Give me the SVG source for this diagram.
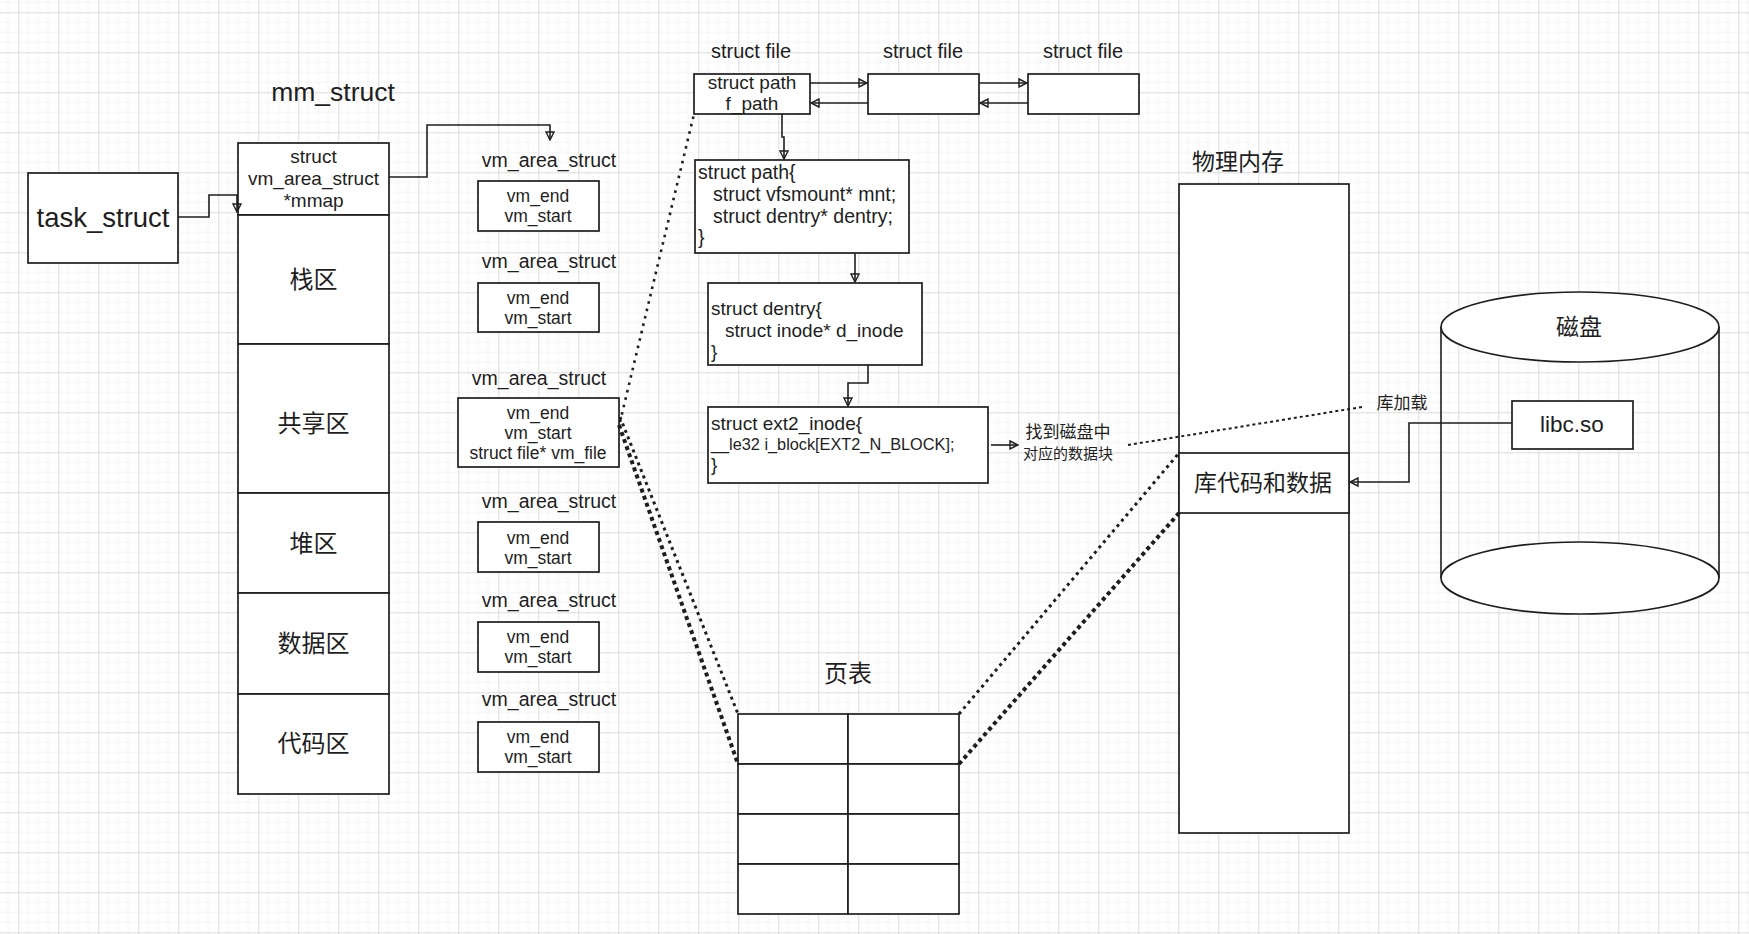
<svg xmlns="http://www.w3.org/2000/svg" width="1749" height="934" viewBox="0 0 1749 934">
<defs>
  <pattern id="grid" x="18.3" y="12.3" width="40" height="40" patternUnits="userSpaceOnUse">
    <path d="M10 0V40M20 0V40M30 0V40M0 10H40M0 20H40M0 30H40" stroke="#f3f3f3" stroke-width="1" fill="none"/>
    <path d="M0.5 0V40M0 0.5H40" stroke="#dcdcdc" stroke-width="1" fill="none"/>
  </pattern>
  <marker id="ah" viewBox="0 0 10 10" refX="9" refY="5" markerWidth="10" markerHeight="10" orient="auto" markerUnits="userSpaceOnUse">
    <path d="M1,1 L9,5 L1,9 Z" fill="none" stroke="#1e1e1e" stroke-width="1.4"/>
  </marker>
  <style>
    .box { fill: #ffffff; stroke: #1e1e1e; stroke-width: 1.7; }
    .t { font-family: "Liberation Sans", Arial, sans-serif; fill: #1e1e1e; }
    .c { font-family: "Noto Sans CJK SC", "Noto Sans", sans-serif; fill: #1e1e1e; }
    .mid { text-anchor: middle; }
    .ln { fill: none; stroke: #1e1e1e; stroke-width: 1.6; }
    .dot { fill: none; stroke: #1e1e1e; }
  </style>
</defs>
<rect x="0" y="0" width="1749" height="934" fill="#ffffff"/>
<rect x="0" y="0" width="1749" height="934" fill="url(#grid)"/>

<g id="task_struct">
  <rect class="box" x="28" y="173" width="150" height="90"/>
  <text class="t mid" x="103" y="227" font-size="27.5">task_struct</text>
</g>

<g id="mm_struct">
  <text class="t mid" x="333" y="101" font-size="26.5">mm_struct</text>
  <rect class="box" x="238" y="143" width="151" height="72"/>
  <text class="t mid" x="313.5" y="163" font-size="19">struct</text>
  <text class="t mid" x="313.5" y="185" font-size="19">vm_area_struct</text>
  <text class="t mid" x="313.5" y="207" font-size="19">*mmap</text>
</g>
<g id="stack">
  <rect class="box" x="238" y="215" width="151" height="129"/>
  <text class="c mid" x="313.5" y="288" font-size="24">栈区</text>
</g>
<g id="shared">
  <rect class="box" x="238" y="344" width="151" height="149"/>
  <text class="c mid" x="313.5" y="432" font-size="24">共享区</text>
</g>
<g id="heap">
  <rect class="box" x="238" y="493" width="151" height="100"/>
  <text class="c mid" x="313.5" y="552" font-size="24">堆区</text>
</g>
<g id="data">
  <rect class="box" x="238" y="593" width="151" height="101"/>
  <text class="c mid" x="313.5" y="652" font-size="24">数据区</text>
</g>
<g id="code">
  <rect class="box" x="238" y="694" width="151" height="100"/>
  <text class="c mid" x="313.5" y="752" font-size="24">代码区</text>
</g>

<g id="vma1">
  <text class="t mid" x="549" y="167" font-size="19.5">vm_area_struct</text>
  <rect class="box" x="478" y="181" width="121" height="50"/>
  <text class="t mid" x="538" y="202" font-size="17.5">vm_end</text>
  <text class="t mid" x="538" y="222" font-size="17.5">vm_start</text>
</g>
<g id="vma2">
  <text class="t mid" x="549" y="268" font-size="19.5">vm_area_struct</text>
  <rect class="box" x="478" y="283" width="121" height="49"/>
  <text class="t mid" x="538" y="304" font-size="17.5">vm_end</text>
  <text class="t mid" x="538" y="324" font-size="17.5">vm_start</text>
</g>
<g id="vma3">
  <text class="t mid" x="539" y="385" font-size="19.5">vm_area_struct</text>
  <rect class="box" x="458" y="398" width="161" height="69"/>
  <text class="t mid" x="538" y="419" font-size="17.5">vm_end</text>
  <text class="t mid" x="538" y="439" font-size="17.5">vm_start</text>
  <text class="t mid" x="538" y="459" font-size="17.5">struct file* vm_file</text>
</g>
<g id="vma4">
  <text class="t mid" x="549" y="508" font-size="19.5">vm_area_struct</text>
  <rect class="box" x="478" y="522" width="121" height="50"/>
  <text class="t mid" x="538" y="544" font-size="17.5">vm_end</text>
  <text class="t mid" x="538" y="564" font-size="17.5">vm_start</text>
</g>
<g id="vma5">
  <text class="t mid" x="549" y="607" font-size="19.5">vm_area_struct</text>
  <rect class="box" x="478" y="622" width="121" height="50"/>
  <text class="t mid" x="538" y="643" font-size="17.5">vm_end</text>
  <text class="t mid" x="538" y="663" font-size="17.5">vm_start</text>
</g>
<g id="vma6">
  <text class="t mid" x="549" y="706" font-size="19.5">vm_area_struct</text>
  <rect class="box" x="478" y="722" width="121" height="50"/>
  <text class="t mid" x="538" y="743" font-size="17.5">vm_end</text>
  <text class="t mid" x="538" y="763" font-size="17.5">vm_start</text>
</g>

<g id="file1">
  <text class="t mid" x="751" y="58" font-size="20">struct file</text>
  <rect class="box" x="694" y="74" width="116" height="40"/>
  <text class="t mid" x="752" y="89" font-size="19">struct path</text>
  <text class="t mid" x="752" y="110" font-size="19">f_path</text>
</g>
<g id="file2">
  <text class="t mid" x="923" y="58" font-size="20">struct file</text>
  <rect class="box" x="868" y="74" width="111" height="40"/>
</g>
<g id="file3">
  <text class="t mid" x="1083" y="58" font-size="20">struct file</text>
  <rect class="box" x="1028" y="74" width="111" height="40"/>
</g>

<g id="path">
  <rect class="box" x="695" y="160" width="214" height="93"/>
  <text class="t" x="698" y="179" font-size="19.5">struct path{</text>
  <text class="t" x="713" y="201" font-size="19.5">struct vfsmount* mnt;</text>
  <text class="t" x="713" y="223" font-size="19.5">struct dentry* dentry;</text>
  <text class="t" x="698" y="244" font-size="19.5">}</text>
</g>
<g id="dentry">
  <rect class="box" x="708" y="283" width="214" height="82"/>
  <text class="t" x="711" y="315" font-size="19">struct dentry{</text>
  <text class="t" x="725" y="337" font-size="19">struct inode* d_inode</text>
  <text class="t" x="711" y="358" font-size="19">}</text>
</g>
<g id="ext2">
  <rect class="box" x="708" y="407" width="280" height="76"/>
  <text class="t" x="711" y="430" font-size="19">struct ext2_inode{</text>
  <text class="t" x="711" y="450" font-size="16.3">__le32 i_block[EXT2_N_BLOCK];</text>
  <text class="t" x="711" y="471" font-size="19">}</text>
</g>
<g id="find_label">
  <text class="c mid" x="1068" y="438" font-size="17">找到磁盘中</text>
  <text class="c mid" x="1068" y="459" font-size="15">对应的数据块</text>
</g>

<g id="pagetable">
  <text class="c mid" x="848" y="682" font-size="24">页表</text>
  <rect class="box" x="738" y="714" width="110" height="50"/>
  <rect class="box" x="848" y="714" width="111" height="50"/>
  <rect class="box" x="738" y="764" width="110" height="50"/>
  <rect class="box" x="848" y="764" width="111" height="50"/>
  <rect class="box" x="738" y="814" width="110" height="50"/>
  <rect class="box" x="848" y="814" width="111" height="50"/>
  <rect class="box" x="738" y="864" width="110" height="50"/>
  <rect class="box" x="848" y="864" width="111" height="50"/>
</g>

<g id="physmem">
  <text class="c mid" x="1238" y="170" font-size="23">物理内存</text>
  <rect class="box" x="1179" y="184" width="170" height="649"/>
</g>
<g id="libdata">
  <rect class="box" x="1179" y="453" width="170" height="60"/>
  <text class="c mid" x="1263" y="491" font-size="23">库代码和数据</text>
</g>

<g id="disk">
  <path class="ln" d="M1441,327 V578 M1719,327 V578"/>
  <ellipse class="box" cx="1580" cy="578" rx="139" ry="36"/>
  <ellipse class="box" cx="1580" cy="327" rx="139" ry="35"/>
  <text class="c mid" x="1579" y="335" font-size="23">磁盘</text>
</g>
<g id="libc">
  <rect class="box" x="1512" y="401" width="121" height="48"/>
  <text class="t mid" x="1572" y="432" font-size="22.5">libc.so</text>
</g>
<g id="load_label">
  <text class="c mid" x="1402" y="409" font-size="17">库加载</text>
</g>

<g id="connectors">
  <path class="ln" d="M178,217 H209 V195 H237 V212" marker-end="url(#ah)"/>
  <path class="ln" d="M389,177 H427 V125 H550 V140" marker-end="url(#ah)"/>
  <path class="ln" d="M810,83 H867" marker-end="url(#ah)"/>
  <path class="ln" d="M868,103 H811" marker-end="url(#ah)"/>
  <path class="ln" d="M979,83 H1027" marker-end="url(#ah)"/>
  <path class="ln" d="M1028,103 H980" marker-end="url(#ah)"/>
  <path class="ln" d="M782,114 V137 H784 V159" marker-end="url(#ah)"/>
  <path class="ln" d="M855,253 V282" marker-end="url(#ah)"/>
  <path class="ln" d="M868,365 V383 H848 V406" marker-end="url(#ah)"/>
  <path class="ln" d="M991,445 H1018" marker-end="url(#ah)"/>
  <path class="ln" d="M1512,423 H1409 V482 H1350" marker-end="url(#ah)"/>
  <line class="dot" x1="620" y1="422" x2="694" y2="114" stroke-width="2.6" stroke-dasharray="2.6 5"/>
  <line class="dot" x1="620" y1="417" x2="738" y2="714" stroke-width="3" stroke-dasharray="3 4"/>
  <line class="dot" x1="619" y1="425" x2="738" y2="764" stroke-width="4" stroke-dasharray="4 3.5"/>
  <line class="dot" x1="959" y1="714" x2="1179" y2="453" stroke-width="3" stroke-dasharray="3 4"/>
  <line class="dot" x1="959" y1="764" x2="1179" y2="513" stroke-width="4" stroke-dasharray="4 3.5"/>
  <line class="dot" x1="1128" y1="445" x2="1362" y2="407" stroke-width="2" stroke-dasharray="3 3"/>
</g>
</svg>
